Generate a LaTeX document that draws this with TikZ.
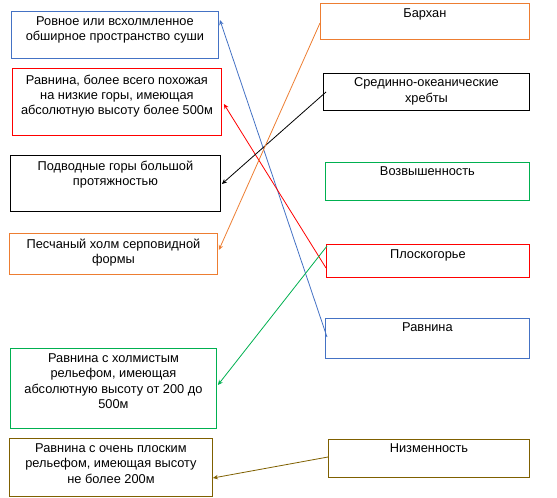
\documentclass[tikz,border=0pt]{standalone}
\usepackage{fontspec}
\setmainfont{Liberation Sans}
\usetikzlibrary{arrows.meta}
\definecolor{oblue}{HTML}{4472C4}
\definecolor{ored}{HTML}{FF0000}
\definecolor{oorange}{HTML}{ED7D31}
\definecolor{ogreen}{HTML}{00B050}
\definecolor{obrown}{HTML}{7F6000}
\tikzset{
  box/.style={draw=#1, line width=0.9pt, inner sep=0pt, anchor=north west},
  txt/.style={anchor=north, inner sep=0pt, align=center, font=\fontsize{12.8}{15.4}\selectfont},
  conn/.style={draw=#1, line width=0.8pt, -{Stealth[length=5pt,width=4.5pt]}}
}
\begin{document}
\begin{tikzpicture}[x=1pt,y=-1pt]
\useasboundingbox (0,0) rectangle (557,498);
% left boxes
\node[box=oblue, minimum width=207pt, minimum height=47pt] (l1) at (11,11) {};
\node[box=ored, minimum width=209pt, minimum height=67pt] (l2) at (12,68) {};
\node[box=black, minimum width=210pt, minimum height=56pt] (l3) at (10,155) {};
\node[box=oorange, minimum width=208pt, minimum height=41pt] (l4) at (9,233) {};
\node[box=ogreen, minimum width=206pt, minimum height=80pt] (l5) at (10,348) {};
\node[box=obrown, minimum width=203pt, minimum height=58pt] (l6) at (9,438) {};
% right boxes
\node[box=oorange, minimum width=209pt, minimum height=36pt] (r1) at (320,3) {};
\node[box=black, minimum width=206pt, minimum height=37pt] (r2) at (323,73) {};
\node[box=ogreen, minimum width=204pt, minimum height=38pt] (r3) at (325,162) {};
\node[box=ored, minimum width=203pt, minimum height=33pt] (r4) at (326,244) {};
\node[box=oblue, minimum width=204pt, minimum height=40pt] (r5) at (325,318) {};
\node[box=obrown, minimum width=201pt, minimum height=38pt] (r6) at (328,439) {};
% texts
\node[txt] (tl1) at ([yshift=-5.5pt]l1.north) {Ровное или всхолмленное\\обширное пространство суши};
\node[txt] (tl2) at ([yshift=-6.5pt]l2.north) {Равнина, более всего похожая\\на низкие горы, имеющая\\абсолютную высоту более 500м};
\node[txt] (tl3) at ([yshift=-5.5pt]l3.north) {Подводные горы большой\\протяжностью};
\node[txt] (tl4) at ([yshift=-5.5pt]l4.north) {Песчаный холм серповидной\\формы};
\node[txt] (tl5) at ([yshift=-5.5pt]l5.north) {Равнина с холмистым\\рельефом, имеющая\\абсолютную высоту от 200 до\\500м};
\node[txt] (tl6) at ([yshift=-5.5pt]l6.north) {Равнина с очень плоским\\рельефом, имеющая высоту\\не более 200м};
\node[txt] (tr1) at ([yshift=-5.5pt]r1.north) {Бархан};
\node[txt] (tr2) at ([yshift=-4.5pt]r2.north) {Срединно-океанические\\хребты};
\node[txt] (tr3) at ([yshift=-4.5pt]r3.north) {Возвышенность};
\node[txt] (tr4) at ([yshift=-5.5pt]r4.north) {Плоскогорье};
\node[txt] (tr5) at ([yshift=-4.5pt]r5.north) {Равнина};
\node[txt] (tr6) at ([yshift=-4.5pt]r6.north) {Низменность};
% connectors
\draw[conn=oblue] ([xshift=2pt,yshift=-19pt]r5.north west) -- ([xshift=1pt,yshift=-9pt]l1.north east);
\draw[conn=ored] ([yshift=-24pt]r4.north west) -- ([xshift=2pt,yshift=-36pt]l2.north east);
\draw[conn=black] ([xshift=3pt,yshift=-19pt]r2.north west) -- ([xshift=1pt,yshift=-29pt]l3.north east);
\draw[conn=oorange] ([yshift=-20pt]r1.north west) -- ([xshift=1pt,yshift=-17pt]l4.north east);
\draw[conn=ogreen] ([xshift=1pt,yshift=-2pt]r4.north west) -- ([xshift=1pt,yshift=-37pt]l5.north east);
\draw[conn=obrown] ([yshift=-18pt]r6.north west) -- ([yshift=-40pt]l6.north east);
\end{tikzpicture}
\end{document}
